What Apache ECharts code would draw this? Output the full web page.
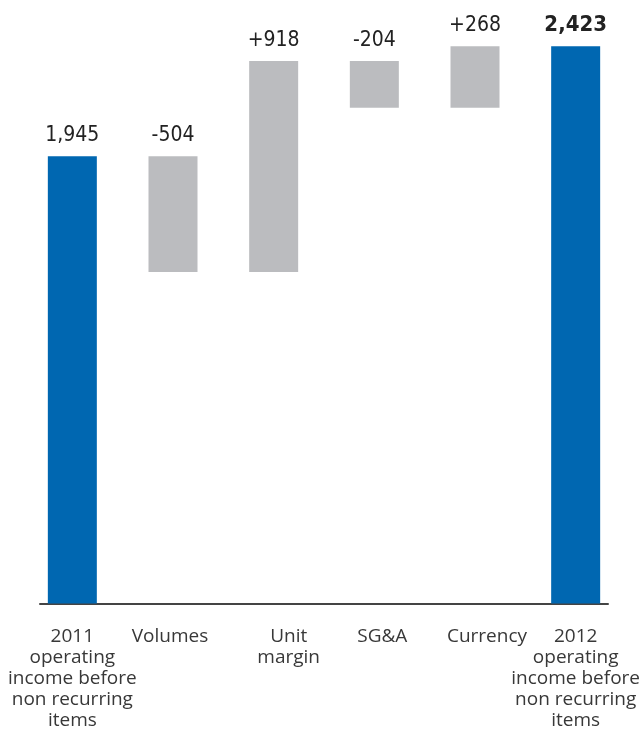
<!DOCTYPE html>
<html>
<head>
<meta charset="utf-8">
<title>Operating income bridge 2011–2012</title>
<script src="https://cdn.jsdelivr.net/npm/echarts@6/dist/echarts.min.js"></script>
<style>
  html, body { margin: 0; padding: 0; background: #ffffff; }
  #chart { width: 641px; height: 730px; }
</style>
</head>
<body>
<div id="chart"></div>
<script>
// Bridge steps, left to right
const categories = [
  '2011\noperating\nincome before\nnon recurring\nitems',
  'Volumes',
  'Unit\nmargin',
  'SG&A',
  'Currency',
  '2012\noperating\nincome before\nnon recurring\nitems'
];
const openingTotal = 1945;
const changes = [-504, 918, -204, 268];
const closingTotal = 2423;

// Horizontal nudge (px) for each category label
const labelShift = [0, -3, 15, 8, 12, 0];

const BLUE = '#0067b1';
const GREY = '#bbbcbf';
const VALUE_FONT = '"Liberation Sans Narrow", "DejaVu Sans Condensed", "Arial Narrow", sans-serif';
const AXIS_FONT = '"Open Sans", "Noto Sans", sans-serif';

// Build invisible offsets and visible segment heights for the waterfall
const baseVals = [0];
const stepVals = [openingTotal];
const stepText = [openingTotal.toLocaleString('en-US')];
let running = openingTotal;
changes.forEach(c => {
  baseVals.push(Math.min(running, running + c));
  stepVals.push(Math.abs(c));
  stepText.push((c > 0 ? '+' : '') + c.toLocaleString('en-US'));
  running += c;
});
baseVals.push(0);
stepVals.push(closingTotal);
stepText.push(closingTotal.toLocaleString('en-US'));

const isTotal = i => i === 0 || i === categories.length - 1;

const rich = {};
labelShift.forEach((d, i) => {
  rich['s' + i] = {
    fontFamily: AXIS_FONT,
    fontSize: 19,
    lineHeight: 21,
    color: '#383838',
    padding: d >= 0 ? [0, 0, 0, 2 * d] : [0, -2 * d, 0, 0]
  };
});

const chart = echarts.init(document.getElementById('chart'), null, { renderer: 'canvas' });

chart.setOption({
  animation: false,
  backgroundColor: '#ffffff',
  grid: [
    { left: 22, width: 604, top: 5.5, bottom: 126.5, containLabel: false, outerBoundsMode: 'none' },
    { left: 40, right: 33, top: 5.5, bottom: 126.5, containLabel: false, outerBoundsMode: 'none' }
  ],
  xAxis: [
    {
      type: 'category',
      gridIndex: 0,
      data: categories,
      axisLine: { show: false },
      axisTick: { show: false },
      axisLabel: {
        interval: 0,
        margin: 23,
        formatter: (value, idx) =>
          value.split('\n').map(line => '{s' + idx + '|' + line + '}').join('\n'),
        rich: rich
      }
    },
    {
      type: 'value',
      gridIndex: 1,
      min: 0,
      max: 1,
      axisLine: { show: true, lineStyle: { color: '#444444', width: 2 } },
      axisTick: { show: false },
      axisLabel: { show: false },
      splitLine: { show: false }
    }
  ],
  yAxis: [
    {
      type: 'value',
      gridIndex: 0,
      min: 0,
      max: 2600,
      show: false,
      splitLine: { show: false }
    },
    {
      type: 'value',
      gridIndex: 1,
      min: 0,
      max: 1,
      show: false
    }
  ],
  series: [
    {
      name: 'offset',
      type: 'bar',
      stack: 'bridge',
      xAxisIndex: 0,
      yAxisIndex: 0,
      barWidth: 49,
      silent: true,
      itemStyle: { color: 'transparent' },
      data: baseVals
    },
    {
      name: 'step',
      type: 'bar',
      stack: 'bridge',
      xAxisIndex: 0,
      yAxisIndex: 0,
      barWidth: 49,
      data: stepVals.map((v, i) => ({
        value: v,
        itemStyle: { color: isTotal(i) ? BLUE : GREY },
        label: i === categories.length - 1 ? { fontWeight: 'bold', fontSize: 22 } : {}
      })),
      label: {
        show: true,
        position: 'top',
        distance: 10,
        fontFamily: VALUE_FONT,
        fontSize: 21,
        color: '#222222',
        formatter: p => stepText[p.dataIndex]
      }
    }
  ]
});
</script>
</body>
</html>
